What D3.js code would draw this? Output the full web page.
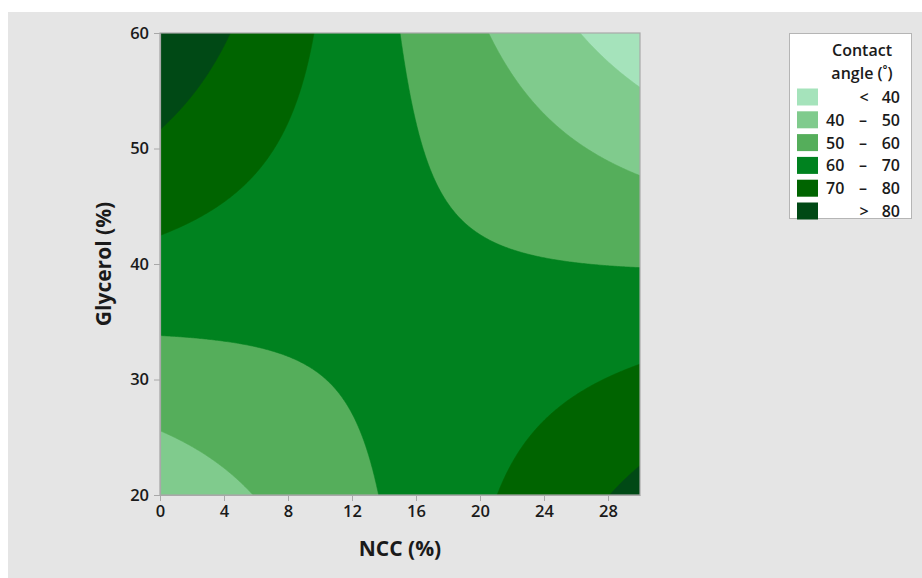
<!DOCTYPE html>
<html>
<head>
<meta charset="utf-8">
<script src="https://cdn.jsdelivr.net/npm/d3@7"></script>
<style>
  html, body { margin: 0; padding: 0; background: #ffffff; }
  svg { display: block; }
  text { font-family: "Open Sans", "Noto Sans", sans-serif; fill: #1a1a1a; }
</style>
</head>
<body>
<svg id="chart" width="922" height="578"></svg>
<script>
// Fitted response surface: contact angle vs NCC and glycerol content
// z = b0 + b1*u + b2*v + b11*u^2 + b22*v^2 + b12*u*v, with u = NCC - 15, v = Glycerol - 40
const modelTerms = ["Constant", "NCC", "Glycerol", "NCC*NCC", "Glycerol*Glycerol", "NCC*Glycerol"];
const modelCoefs = [62.28, -0.253, -0.044, 0.005, -0.0035, -0.079];
const modelCenter = [15, 40];

const nccRange = [0, 30];
const glycerolRange = [20, 60];
const xTicks = [0, 4, 8, 12, 16, 20, 24, 28];
const yTicks = [20, 30, 40, 50, 60];

const levelBreaks = [40, 50, 60, 70, 80];
const levelLabels = [["<", "", "40"], ["40", "–", "50"], ["50", "–", "60"], ["60", "–", "70"], ["70", "–", "80"], [">", "", "80"]];
const levelColors = ["#a5e3bb", "#80cb8d", "#55ae5b", "#00821f", "#006400", "#004915"];

const svg = d3.select("#chart");
const W = 922, H = 578;

// panel background
svg.append("rect").attr("x", 8).attr("y", 12).attr("width", W - 8).attr("height", H - 12).attr("fill", "#e5e5e5");

const plot = { left: 160, top: 33, right: 640, bottom: 495 };
const x = d3.scaleLinear().domain(nccRange).range([plot.left, plot.right]);
const y = d3.scaleLinear().domain(glycerolRange).range([plot.bottom, plot.top]);

function response(nc, gl) {
  const u = nc - modelCenter[0], v = gl - modelCenter[1];
  const [b0, b1, b2, b11, b22, b12] = modelCoefs;
  return b0 + b1 * u + b2 * v + b11 * u * u + b22 * v * v + b12 * u * v;
}

// sample the surface on a fine grid
const step = 0.1;
const nx = Math.round((nccRange[1] - nccRange[0]) / step) + 1;
const ny = Math.round((glycerolRange[1] - glycerolRange[0]) / step) + 1;
const grid = new Array(nx * ny);
for (let j = 0; j < ny; j++) {
  for (let i = 0; i < nx; i++) {
    grid[i + j * nx] = response(nccRange[0] + i * step, glycerolRange[0] + j * step);
  }
}

const thresholds = [-1000].concat(levelBreaks);
const contours = d3.contours().size([nx, ny]).thresholds(thresholds)(grid);

const projection = d3.geoTransform({
  point: function (cx, cy) {
    this.stream.point(x(nccRange[0] + (cx - 0.5) * step), y(glycerolRange[0] + (cy - 0.5) * step));
  }
});
const path = d3.geoPath(projection);

svg.append("clipPath").attr("id", "plot-clip")
  .append("rect").attr("x", plot.left).attr("y", plot.top)
  .attr("width", plot.right - plot.left).attr("height", plot.bottom - plot.top);

svg.append("g").attr("clip-path", "url(#plot-clip)")
  .selectAll("path").data(contours).join("path")
  .attr("d", path)
  .attr("fill", (d, i) => levelColors[i])
  .attr("stroke", (d, i) => levelColors[i])
  .attr("stroke-width", 0.6);

// frame
svg.append("rect").attr("x", plot.left).attr("y", plot.top)
  .attr("width", plot.right - plot.left).attr("height", plot.bottom - plot.top)
  .attr("fill", "none").attr("stroke", "#a8a8a8").attr("stroke-width", 1.2);

// axes
const xAxis = svg.append("g").attr("transform", `translate(0,${plot.bottom})`)
  .call(d3.axisBottom(x).tickValues(xTicks).tickSize(6).tickPadding(4).tickSizeOuter(0));
const yAxis = svg.append("g").attr("transform", `translate(${plot.left},0)`)
  .call(d3.axisLeft(y).tickValues(yTicks).tickSize(6).tickPadding(5).tickSizeOuter(0));
[xAxis, yAxis].forEach(g => {
  g.select(".domain").attr("stroke", "#a8a8a8").attr("stroke-width", 1.2);
  g.selectAll(".tick line").attr("stroke", "#a8a8a8");
  g.selectAll(".tick text").style("font-family", "'Open Sans', sans-serif")
    .style("font-size", "16.5px").style("font-weight", 600).attr("fill", "#1a1a1a");
});

svg.append("text").attr("x", (plot.left + plot.right) / 2).attr("y", 556)
  .attr("text-anchor", "middle").style("font-size", "21px").style("font-weight", 700)
  .text("NCC (%)");
svg.append("text").attr("transform", `translate(111,${(plot.top + plot.bottom) / 2}) rotate(-90)`)
  .attr("text-anchor", "middle").style("font-size", "21px").style("font-weight", 700)
  .text("Glycerol (%)");

// legend
const lg = svg.append("g");
lg.append("rect").attr("x", 789.5).attr("y", 33.5).attr("width", 122).attr("height", 185)
  .attr("fill", "#ffffff").attr("stroke", "#b5b5b5");
lg.append("text").attr("x", 862).attr("y", 56).attr("text-anchor", "middle")
  .style("font-size", "16px").style("font-weight", 600).text("Contact");
lg.append("text").attr("x", 862).attr("y", 79).attr("text-anchor", "middle")
  .style("font-size", "16px").style("font-weight", 600).text("angle (˚)");
levelLabels.forEach((lab, i) => {
  const cy = 97 + i * 22.8;
  lg.append("rect").attr("x", 797).attr("y", cy - 8.5).attr("width", 21).attr("height", 17)
    .attr("fill", levelColors[i]);
  const t = (xx, anchor, s) => lg.append("text").attr("x", xx).attr("y", cy + 6)
    .attr("text-anchor", anchor).style("font-size", "16px").style("font-weight", 600).text(s);
  if (lab[1] === "") {
    t(864, "middle", lab[0]);
  } else {
    t(826, "start", lab[0]);
    t(863, "middle", lab[1]);
  }
  t(900, "end", lab[2]);
});
</script>
</body>
</html>
